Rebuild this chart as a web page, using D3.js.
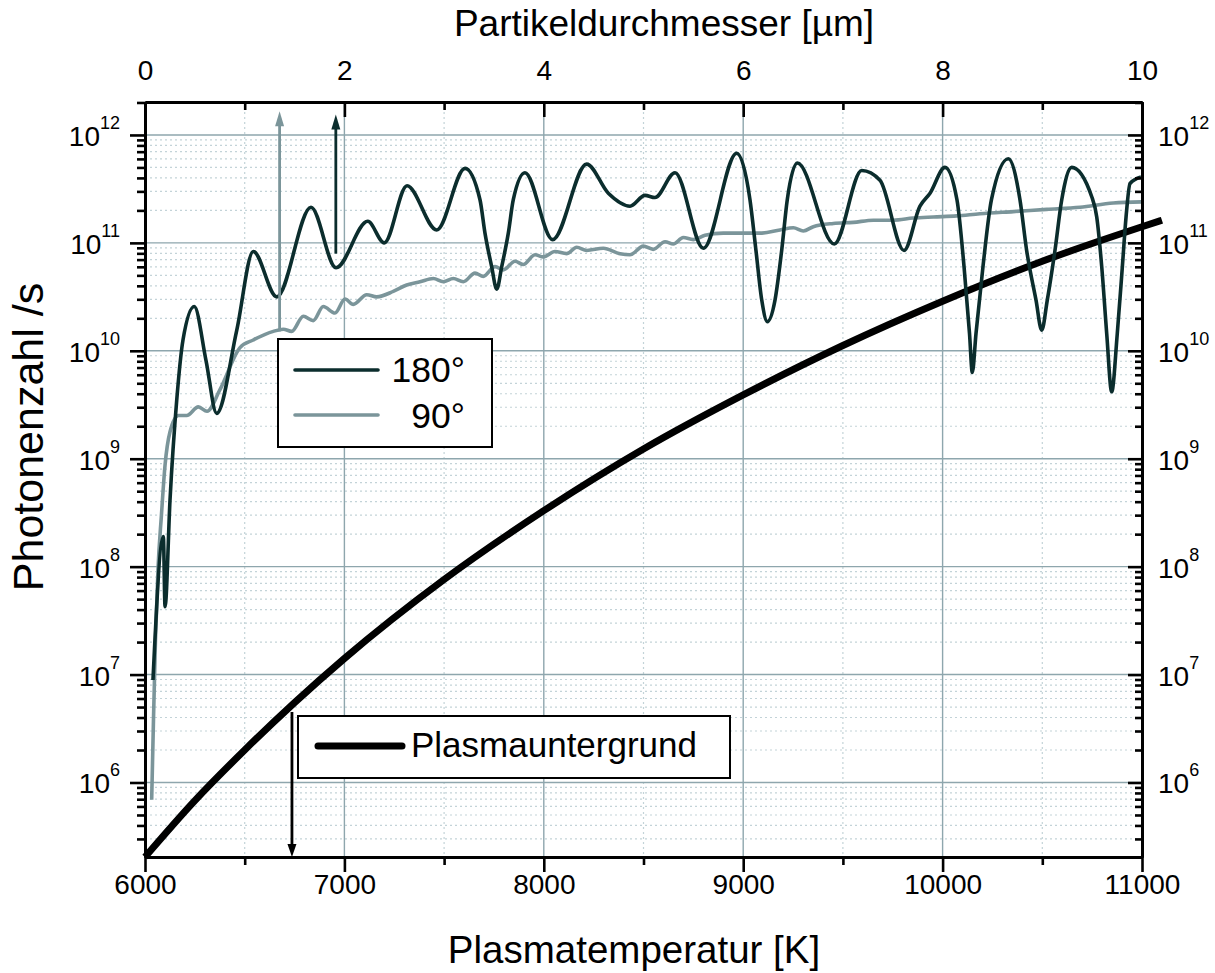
<!DOCTYPE html>
<html><head><meta charset="utf-8">
<script src="https://cdn.jsdelivr.net/npm/d3@7"></script>
<style>body{margin:0;background:#fff} text{font-family:"Liberation Sans",Arial,sans-serif;fill:#000}</style>
</head><body><svg id="c" width="1215" height="973"></svg>
<script>
// ---------- tick labels / categories ----------
const tempTicks = [6000, 7000, 8000, 9000, 10000, 11000];
const tempMinorTicks = [6500, 7500, 8500, 9500, 10500];
const diamTicks = [0, 2, 4, 6, 8, 10];
const diamMinorTicks = [1, 3, 5, 7, 9];
const yExponents = [6, 7, 8, 9, 10, 11, 12];

// ---------- Plasmauntergrund: temperature [K] vs photons/s ----------
const plasmaT = [6000, 6250, 6500, 6750, 7000, 7500, 8000, 8500, 9000, 9500, 10000, 10500, 11000, 11100];
const plasmaN = [2.04e5, 6.8e5, 2.0e6, 5.5e6, 1.41e7, 7.6e7, 3.3e8, 1.23e9, 3.9e9, 1.12e10, 2.88e10, 6.76e10, 1.41e11, 1.62e11];

// ---------- 180°: particle diameter [µm] vs log10(photons/s) ----------
const d180 = [0.080,0.184,0.201,0.251,0.318,0.381,0.494,0.612,0.719,0.920,1.086,1.321,1.665,1.916,2.234,2.400,2.628,2.926,3.210,3.360,3.410,3.477,3.528,3.578,3.644,3.694,3.811,4.089,4.430,4.647,4.865,5.015,5.115,5.316,5.600,5.935,6.068,6.128,6.186,6.242,6.319,6.386,6.442,6.543,6.914,7.189,7.372,7.613,7.773,7.874,8.024,8.144,8.215,8.270,8.298,8.335,8.405,8.490,8.659,8.776,8.843,8.937,8.994,9.050,9.127,9.195,9.295,9.495,9.546,9.596,9.646,9.696,9.752,9.803,9.840,9.880,9.990];
const log180 = [6.95,8.28,7.63,8.62,9.54,10.10,10.41,9.91,9.42,10.19,10.92,10.50,11.33,10.77,11.20,11.00,11.53,11.12,11.69,11.40,11.09,10.78,10.57,10.78,11.09,11.40,11.65,11.03,11.73,11.46,11.34,11.44,11.42,11.65,10.95,11.83,11.40,10.93,10.47,10.27,10.47,10.93,11.40,11.74,10.99,11.67,11.58,10.93,11.34,11.46,11.70,11.40,10.78,10.16,9.80,10.16,10.78,11.40,11.78,11.40,10.93,10.47,10.19,10.47,10.93,11.40,11.70,11.43,11.24,10.78,10.16,9.62,10.16,10.78,11.24,11.55,11.61];

// ---------- 90°: particle diameter [µm] vs log10(photons/s) ----------
const d90 = [0.067,0.085,0.105,0.130,0.165,0.201,0.251,0.334,0.418,0.535,0.622,0.752,0.953,1.086,1.287,1.387,1.471,1.588,1.688,1.788,1.906,2.006,2.089,2.224,2.324,2.490,2.625,2.758,2.892,2.992,3.092,3.193,3.310,3.393,3.511,3.594,3.711,3.794,3.912,3.995,4.112,4.230,4.330,4.430,4.597,4.764,4.865,4.998,5.098,5.216,5.299,5.399,5.500,5.617,5.800,6.001,6.169,6.369,6.503,6.603,6.703,6.904,7.104,7.305,7.506,7.706,7.907,8.141,8.375,8.709,9.044,9.378,9.712,9.997];
const log90 = [5.84,6.58,7.32,7.97,8.48,8.94,9.25,9.40,9.40,9.48,9.44,9.64,10.03,10.10,10.18,10.20,10.18,10.32,10.28,10.41,10.35,10.48,10.43,10.52,10.50,10.55,10.61,10.64,10.67,10.64,10.67,10.64,10.72,10.69,10.78,10.75,10.83,10.80,10.89,10.87,10.92,10.90,10.96,10.93,10.95,10.90,10.89,10.97,10.94,11.01,10.99,11.05,11.03,11.07,11.09,11.09,11.09,11.12,11.14,11.11,11.15,11.18,11.19,11.21,11.21,11.23,11.24,11.25,11.27,11.29,11.31,11.33,11.37,11.38];

// ---------- annotation arrows ----------
const arrow90 = {d: 1.35, from: 10.18, to: 12.22};
const arrow180 = {d: 1.914, from: 10.90, to: 12.19};
const arrowPlasma = {T: 6737, from: 4.5e6, to: 2.04e5};

const C180 = "#0b2d2d", C90 = "#7b959a", GRID = "#8ea6ad", GRIDMINOR = "#c3d3d8";

const svg = d3.select("#c");
const L = 145, R = 1142, T = 102, B = 857;
const x = d3.scaleLinear().domain([6000, 11000]).range([L, R]);
const xd = d3.scaleLinear().domain([0, 10]).range([L, R]);
const y = d3.scaleLog().domain([2.04e5, 2.02e12]).range([B, T]);

// ---------- grid ----------
const minorY = [];
for (let k = 5; k <= 12; k++) for (let m = 2; m <= 9; m++) {
  const v = m * Math.pow(10, k);
  if (v > y.domain()[0] && v < y.domain()[1]) minorY.push(v);
}
const majorY = yExponents.map(e => Math.pow(10, e));
const grid = svg.append("g");
grid.selectAll(".gmy").data(minorY).join("line")
  .attr("x1", L).attr("x2", R).attr("y1", d => y(d)).attr("y2", d => y(d))
  .attr("stroke", GRIDMINOR).attr("stroke-width", 1.2).attr("stroke-dasharray", "2,3");
grid.selectAll(".gmx").data(tempMinorTicks).join("line")
  .attr("x1", d => x(d)).attr("x2", d => x(d)).attr("y1", T).attr("y2", B)
  .attr("stroke", GRIDMINOR).attr("stroke-width", 1.2).attr("stroke-dasharray", "2,3");
grid.selectAll(".gMy").data(majorY).join("line")
  .attr("x1", L).attr("x2", R).attr("y1", d => y(d)).attr("y2", d => y(d))
  .attr("stroke", GRID).attr("stroke-width", 1.4);
grid.selectAll(".gMx").data(tempTicks.slice(1, -1)).join("line")
  .attr("x1", d => x(d)).attr("x2", d => x(d)).attr("y1", T).attr("y2", B)
  .attr("stroke", GRID).attr("stroke-width", 1.4);

// ---------- curves ----------
const line180 = d3.line().x((d, i) => xd(d180[i])).y((d, i) => y(Math.pow(10, log180[i]))).curve(d3.curveMonotoneX);
const line90 = d3.line().x((d, i) => xd(d90[i])).y((d, i) => y(Math.pow(10, log90[i]))).curve(d3.curveMonotoneX);
const linePl = d3.line().x((d, i) => x(plasmaT[i])).y((d, i) => y(plasmaN[i])).curve(d3.curveMonotoneX);

svg.append("path").attr("d", linePl(plasmaT)).attr("fill", "none").attr("stroke", "#000").attr("stroke-width", 7);
svg.append("path").attr("d", line90(d90)).attr("fill", "none").attr("stroke", C90).attr("stroke-width", 3.6).attr("stroke-linejoin", "round");
svg.append("path").attr("d", line180(d180)).attr("fill", "none").attr("stroke", C180).attr("stroke-width", 3.6).attr("stroke-linejoin", "round");

// ---------- arrows ----------
function vArrow(px, y1, y2, color, headLen) {
  const dir = y2 < y1 ? 1 : -1;
  svg.append("line").attr("x1", px).attr("x2", px).attr("y1", y1).attr("y2", y2 + dir * (headLen - 2))
    .attr("stroke", color).attr("stroke-width", 2.8);
  svg.append("path").attr("d", `M${px},${y2} L${px - 4.5},${y2 + dir * headLen} L${px + 4.5},${y2 + dir * headLen} Z`)
    .attr("fill", color);
}
vArrow(xd(arrow90.d), y(Math.pow(10, arrow90.from)), y(Math.pow(10, arrow90.to)), C90, 15);
vArrow(xd(arrow180.d), y(Math.pow(10, arrow180.from)), y(Math.pow(10, arrow180.to)), C180, 15);
vArrow(x(arrowPlasma.T), y(arrowPlasma.from), y(arrowPlasma.to), "#000", 13);

// ---------- axes ----------
function styleAxis(g) {
  g.select(".domain").attr("stroke", "#000").attr("stroke-width", 3);
  g.selectAll(".tick line").attr("stroke", "#000").attr("stroke-width", 2.6);
  g.selectAll(".tick text").style("font-size", "28px").attr("fill", "#000").style("font-family", '"Liberation Sans",Arial,sans-serif');
}
// bottom
svg.append("g").attr("transform", `translate(0,${B})`)
  .call(d3.axisBottom(x).tickValues(tempMinorTicks).tickSize(8).tickSizeOuter(0).tickFormat("")).call(styleAxis);
svg.append("g").attr("transform", `translate(0,${B})`)
  .call(d3.axisBottom(x).tickValues(tempTicks).tickSize(15).tickSizeOuter(0).tickPadding(2).tickFormat(d3.format("d"))).call(styleAxis);
// top
svg.append("g").attr("transform", `translate(0,${T})`)
  .call(d3.axisTop(xd).tickValues(diamMinorTicks).tickSize(-8).tickSizeOuter(0).tickFormat("")).call(styleAxis);
svg.append("g").attr("transform", `translate(0,${T})`)
  .call(d3.axisTop(xd).tickValues(diamTicks).tickSize(-15).tickSizeOuter(0).tickPadding(22).tickFormat(d3.format("d"))).call(styleAxis);
// left
svg.append("g").attr("transform", `translate(${L},0)`)
  .call(d3.axisLeft(y).tickValues(minorY).tickSize(8).tickSizeOuter(0).tickFormat("")).call(styleAxis);
svg.append("g").attr("transform", `translate(${L},0)`)
  .call(d3.axisLeft(y).tickValues(majorY).tickSize(15).tickSizeOuter(0).tickFormat("")).call(styleAxis);
// right
svg.append("g").attr("transform", `translate(${R},0)`)
  .call(d3.axisRight(y).tickValues(minorY).tickSize(-7).tickSizeOuter(0).tickFormat("")).call(styleAxis);
svg.append("g").attr("transform", `translate(${R},0)`)
  .call(d3.axisRight(y).tickValues(majorY).tickSize(-14).tickSizeOuter(0).tickFormat("")).call(styleAxis);

// power-of-ten labels
function powLabels(px, anchor) {
  yExponents.forEach(e => {
    const t = svg.append("text").attr("x", px).attr("y", y(Math.pow(10, e)) + 11)
      .attr("text-anchor", anchor).style("font-size", "28px");
    t.append("tspan").text("10");
    t.append("tspan").attr("dy", -17).style("font-size", "18px").text(e);
  });
}
powLabels(L - 25, "end");
powLabels(R + 16, "start");

// axis titles
svg.append("text").attr("x", 634).attr("y", 963).attr("text-anchor", "middle").style("font-size", "38.5px").text("Plasmatemperatur [K]");
svg.append("text").attr("x", 664).attr("y", 36).attr("text-anchor", "middle").style("font-size", "37px").text("Partikeldurchmesser [µm]");
svg.append("text").attr("transform", "translate(43,437) rotate(-90)").attr("text-anchor", "middle").style("font-size", "43px").text("Photonenzahl /s");

// ---------- legends ----------
const lg1 = svg.append("g");
lg1.append("rect").attr("x", 278).attr("y", 339).attr("width", 214).attr("height", 108).attr("fill", "#fff").attr("stroke", "#000").attr("stroke-width", 2);
lg1.append("line").attr("x1", 295).attr("x2", 378).attr("y1", 370).attr("y2", 370).attr("stroke", C180).attr("stroke-width", 3.6).attr("stroke-linecap", "round");
lg1.append("line").attr("x1", 295).attr("x2", 378).attr("y1", 415).attr("y2", 415).attr("stroke", C90).attr("stroke-width", 3.6).attr("stroke-linecap", "round");
lg1.append("text").attr("x", 465).attr("y", 382).attr("text-anchor", "end").style("font-size", "35.5px").text("180°");
lg1.append("text").attr("x", 465).attr("y", 428).attr("text-anchor", "end").style("font-size", "35.5px").text("90°");

const lg2 = svg.append("g");
lg2.append("rect").attr("x", 298).attr("y", 716).attr("width", 432).attr("height", 62).attr("fill", "#fff").attr("stroke", "#000").attr("stroke-width", 2);
lg2.append("line").attr("x1", 318).attr("x2", 402).attr("y1", 746).attr("y2", 746).attr("stroke", "#000").attr("stroke-width", 7).attr("stroke-linecap", "round");
lg2.append("text").attr("x", 411).attr("y", 757).style("font-size", "35px").text("Plasmauntergrund");
</script></body></html>
